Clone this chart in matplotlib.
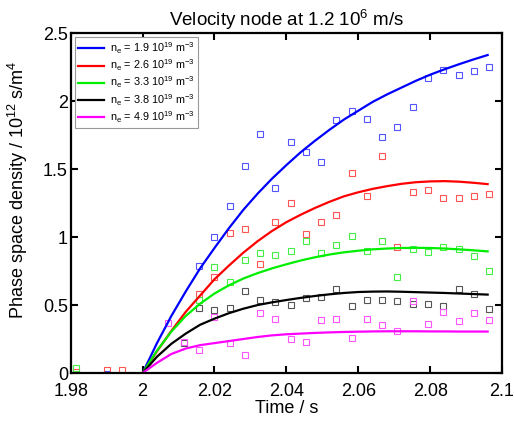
import matplotlib
matplotlib.use('Agg')
import matplotlib.pyplot as plt

plt.rcParams['font.family'] = ['Liberation Sans', 'DejaVu Sans']
plt.rcParams['mathtext.fontset'] = 'custom'
plt.rcParams['mathtext.rm'] = 'Liberation Sans'
plt.rcParams['mathtext.it'] = 'Liberation Sans'
plt.rcParams['mathtext.default'] = 'regular'

# measured points (time in s, density in 1e12 s/m^4)
t_pre = [1.9815, 1.9900, 1.9942]
t_meas = [2.0072, 2.0114, 2.0157, 2.0199, 2.0242, 2.0284, 2.0327, 2.0369,
          2.0412, 2.0454, 2.0497, 2.0539, 2.0582, 2.0624, 2.0667, 2.0709,
          2.0752, 2.0794, 2.0837, 2.0879, 2.0922, 2.0964]

blue_pre = [None, -0.01, None]
red_pre = [0.01, 0.02, 0.02]
green_pre = [0.035, None, None]

blue_meas = [None, None, 0.79, 1.00, 1.23, 1.52, 1.76, 1.36, 1.70, 1.63, 1.55,
             1.86, 1.93, 1.87, 1.74, 1.81, 1.96, 2.17, 2.23, 2.19, 2.22, 2.25]
red_meas = [None, None, 0.58, 0.71, 1.03, 1.06, 0.80, 1.11, 1.25, 1.02, 1.11,
            1.16, 1.47, 1.30, 1.60, 0.93, 1.33, 1.35, 1.29, 1.29, 1.30, 1.32]
green_meas = [None, None, 0.54, 0.78, 0.67, 0.83, 0.88, 0.87, 0.90, 0.97, 0.88,
              0.94, 1.01, 0.90, 0.97, 0.71, 0.91, 0.89, 0.93, 0.91, 0.86, 0.75]
black_meas = [None, 0.22, 0.48, 0.46, 0.48, 0.60, 0.54, 0.52, 0.50, 0.55, 0.56,
              0.62, 0.49, 0.54, 0.54, 0.53, 0.51, 0.51, 0.49, 0.62, 0.58, 0.47]
magenta_meas = [0.37, 0.23, 0.17, 0.41, 0.22, 0.13, 0.44, 0.40, 0.25, 0.23, 0.39,
                0.40, 0.26, 0.40, 0.35, 0.31, 0.53, 0.36, 0.45, 0.38, 0.44, 0.39]

# fitted curves
t_fit = [2.000, 2.004, 2.008, 2.012, 2.016, 2.020, 2.024, 2.028, 2.032, 2.036,
         2.040, 2.044, 2.048, 2.052, 2.056, 2.060, 2.064, 2.068, 2.072, 2.076,
         2.080, 2.084, 2.088, 2.092, 2.096]
blue_fit = [0.0, 0.22, 0.42, 0.60, 0.77, 0.92, 1.065, 1.20, 1.32, 1.43,
            1.53, 1.625, 1.71, 1.79, 1.865, 1.93, 1.995, 2.05, 2.10, 2.15,
            2.195, 2.235, 2.272, 2.307, 2.34]
red_fit = [0.0, 0.16, 0.31, 0.45, 0.57, 0.69, 0.79, 0.885, 0.97, 1.045,
           1.11, 1.165, 1.215, 1.26, 1.30, 1.33, 1.355, 1.375, 1.392, 1.404,
           1.41, 1.412, 1.408, 1.40, 1.39]
green_fit = [0.0, 0.165, 0.305, 0.42, 0.51, 0.585, 0.645, 0.695, 0.735, 0.77,
             0.80, 0.828, 0.852, 0.872, 0.888, 0.90, 0.91, 0.916, 0.92, 0.921,
             0.92, 0.916, 0.91, 0.903, 0.895]
black_fit = [0.0, 0.12, 0.215, 0.29, 0.355, 0.40, 0.44, 0.473, 0.50, 0.52,
             0.537, 0.553, 0.567, 0.579, 0.589, 0.596, 0.599, 0.60, 0.598, 0.595,
             0.592, 0.589, 0.585, 0.581, 0.577]
magenta_fit = [0.0, 0.075, 0.14, 0.18, 0.205, 0.22, 0.235, 0.25, 0.265, 0.277,
               0.285, 0.29, 0.295, 0.299, 0.302, 0.304, 0.306, 0.307, 0.307, 0.307,
               0.306, 0.306, 0.305, 0.305, 0.305]

densities = ['1.9', '2.6', '3.3', '3.8', '4.9']
line_colors = ['#0000ff', '#ff0000', '#00ee00', '#000000', '#ff00ff']
marker_colors = ['#5555ff', '#ff5555', '#44ee44', '#555555', '#ff55ff']

x_ticks = [1.98, 2.0, 2.02, 2.04, 2.06, 2.08, 2.1]
x_labels = ['1.98', '2', '2.02', '2.04', '2.06', '2.08', '2.1']
y_ticks = [0, 0.5, 1, 1.5, 2, 2.5]
y_labels = ['0', '0.5', '1', '1.5', '2', '2.5']


def scatter_points(ax, times, values, color):
    """
    Draw open square markers, skipping missing values.
    """
    pts = [(t, v) for t, v in zip(times, values) if v is not None]
    if not pts:
        return
    ts, vs = zip(*pts)
    ax.plot(ts, vs, linestyle='none', marker='s', markersize=4.8,
            markerfacecolor='none', markeredgecolor=color, markeredgewidth=0.8)


def make_plot():
    fig = plt.figure(figsize=(5.14, 4.23), dpi=100)
    ax = fig.add_axes([0.1376, 0.1182, 0.8391, 0.8031])

    fits = [blue_fit, red_fit, green_fit, black_fit, magenta_fit]
    meas = [blue_meas, red_meas, green_meas, black_meas, magenta_meas]
    pre = [blue_pre, red_pre, green_pre, None, None]

    for i in range(5):
        if pre[i] is not None:
            scatter_points(ax, t_pre, pre[i], marker_colors[i])
        scatter_points(ax, t_meas, meas[i], marker_colors[i])

    handles = []
    for i in range(5):
        line, = ax.plot(t_fit, fits[i], color=line_colors[i], linewidth=1.6,
                        label=r'n$_e$ = ' + densities[i] + r' 10$^{19}$ m$^{-3}$')
        handles.append(line)

    ax.set_xlim(1.98, 2.1)
    ax.set_ylim(0, 2.5)
    ax.set_xticks(x_ticks)
    ax.set_xticklabels(x_labels)
    ax.set_yticks(y_ticks)
    ax.set_yticklabels(y_labels)
    ax.tick_params(direction='in', length=5, width=1.5, top=True, right=True,
                   labelsize=13)
    ax.tick_params(axis='x', pad=7.5)
    ax.tick_params(axis='y', pad=2)
    for spine in ax.spines.values():
        spine.set_linewidth(1.6)

    ax.set_title(r'Velocity node at 1.2 10$^{6}$ m/s', fontsize=13.5, pad=5)
    ax.set_xlabel('Time / s', fontsize=13, labelpad=0)
    ax.set_ylabel(r'Phase space density / 10$^{12}$ s/m$^4$', fontsize=13)
    ax.yaxis.set_label_coords(-0.095, 0.54)

    leg = ax.legend(handles=handles, loc='upper left', fontsize=7.8,
                    handlelength=2.4, handletextpad=0.6, labelspacing=0.15,
                    borderpad=0.3, fancybox=False, framealpha=1,
                    borderaxespad=0.35)
    leg.get_frame().set_edgecolor('#999999')
    leg.get_frame().set_linewidth(0.8)

    fig.savefig('out.png', dpi=100)


if __name__ == '__main__':
    make_plot()
